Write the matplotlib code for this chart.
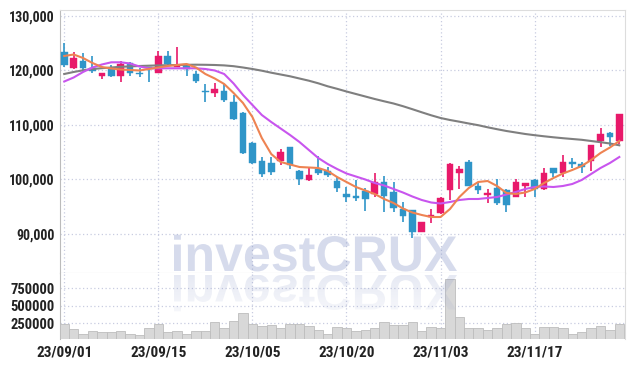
import numpy as np
import matplotlib.pyplot as plt
from matplotlib.textpath import TextPath
from matplotlib.patches import PathPatch
from matplotlib.font_manager import FontProperties
from matplotlib.transforms import Affine2D

# trading days (yy/mm/dd)
dates = ['23/09/01', '23/09/04', '23/09/05', '23/09/06', '23/09/07', '23/09/08',
         '23/09/11', '23/09/12', '23/09/13', '23/09/14', '23/09/15', '23/09/18',
         '23/09/19', '23/09/20', '23/09/21', '23/09/22', '23/09/25', '23/09/26',
         '23/09/27', '23/10/04', '23/10/05', '23/10/06', '23/10/10', '23/10/11',
         '23/10/12', '23/10/13', '23/10/16', '23/10/17', '23/10/18', '23/10/19',
         '23/10/20', '23/10/23', '23/10/24', '23/10/25', '23/10/26', '23/10/27',
         '23/10/30', '23/10/31', '23/11/01', '23/11/02', '23/11/03', '23/11/06',
         '23/11/07', '23/11/08', '23/11/09', '23/11/10', '23/11/13', '23/11/14',
         '23/11/15', '23/11/16', '23/11/17', '23/11/20', '23/11/21', '23/11/22',
         '23/11/23', '23/11/24', '23/11/27', '23/11/28', '23/11/29', '23/11/30']

opens = [123450, 120400, 121740, 120400, 118990, 120400, 118990, 121430, 119600, 120700,
         119600, 122660, 120700, 121010, 119360, 116300, 115870, 116300, 114270, 112260,
         106750, 103450, 103080, 103450, 106020, 101620, 99910, 101870, 101620, 99790,
         97340, 96970, 97940, 97340, 99590, 97760, 94530, 94400, 90420, 93060,
         93910, 98070, 101130, 103210, 98810, 97160, 98380, 98070, 96840, 98880,
         99910, 98200, 102050, 101130, 103270, 102840, 103450, 107120, 108590, 107120]
highs = [125050, 123450, 123160, 122660, 119600, 121000, 121740, 121620, 120400, 120700,
         123630, 123630, 124370, 121200, 119960, 117520, 117760, 117580, 115500, 112440,
         106930, 104180, 104180, 105540, 106020, 101700, 102240, 104310, 102240, 100500,
         98570, 99910, 98380, 101130, 100640, 99590, 95920, 94400, 92250, 94530,
         96700, 103000, 102470, 103580, 99450, 98200, 100000, 98200, 100000, 99300,
         100000, 102050, 102050, 104490, 103890, 103270, 106330, 109390, 108770, 112020]
lows = [120640, 120270, 119780, 119600, 118390, 118750, 117890, 118990, 118750, 117950,
        119490, 120820, 120590, 119000, 117650, 114270, 115140, 114270, 110920, 104620,
        102840, 100400, 100770, 102660, 101870, 98990, 99790, 100820, 100400, 97760,
        95920, 96140, 94270, 96730, 94090, 94090, 92250, 89210, 90420, 91960,
        93700, 96240, 98200, 98810, 97340, 95630, 95320, 94090, 96730, 96840,
        96800, 98070, 100450, 100400, 102050, 101130, 101620, 105910, 106150, 106520]
closes = [121010, 122240, 120400, 119900, 119490, 118990, 121190, 119490, 119360, 120400,
          122660, 121190, 121010, 120220, 118070, 115980, 116600, 114590, 111100, 104860,
          103080, 101000, 101440, 105100, 102660, 100000, 100820, 101250, 100820, 98380,
          96840, 96550, 96420, 99590, 97060, 94710, 93300, 90420, 92250, 93480,
          96550, 102840, 101870, 98810, 98070, 97470, 95740, 95320, 99590, 99300,
          98200, 101130, 101250, 103270, 102840, 102240, 106330, 108340, 107740, 112020]
volumes = [240000, 159000, 101000, 142000, 116000, 116000, 144000, 101000, 87000, 173000,
           234000, 116000, 130000, 101000, 130000, 144000, 263000, 187000, 277000, 387000,
           244000, 206000, 220000, 187000, 234000, 234000, 206000, 145000, 101000, 200000,
           173000, 134000, 149000, 173000, 267000, 220000, 220000, 267000, 134000, 196000,
           173000, 873000, 339000, 187000, 187000, 149000, 173000, 234000, 258000, 173000,
           101000, 196000, 196000, 173000, 91000, 124000, 187000, 206000, 149000, 244000]

# moving averages as shown on the chart
ma5 = [122660, 122935, 122293, 121375, 120641, 120366, 120183, 120091, 119999, 120275,
       120550, 120825, 121009, 121192, 120550, 119357, 118532, 117522, 115871, 114036,
       111467, 107613, 104677, 103209, 102750, 102292, 102200, 102108, 101558, 100457,
       99539, 98622, 97980, 97338, 96420, 95686, 94677, 93943, 93484, 93117,
       93117, 94585, 96787, 98439, 99540, 99723, 98806, 97521, 97338, 97613,
       98255, 99356, 100273, 101099, 101741, 102475, 103576, 104861, 105870, 107063]
ma20 = [117981, 118715, 119724, 120550, 121100, 121504, 121504, 121284, 120733, 120403,
        120403, 120403, 120403, 120403, 120403, 120275, 120000, 119357, 117614, 115503,
        113669, 111833, 110549, 109356, 108164, 106879, 105411, 103943, 102842, 101925,
        101099, 100548, 99998, 99356, 98897, 98255, 97613, 96879, 96236, 95778,
        95594, 95869, 96236, 96420, 96420, 96603, 96787, 97246, 97704, 98255,
        98622, 98714, 98622, 98805, 99172, 99906, 101007, 102108, 103026, 104126]
ma60 = [119357, 119724, 120036, 120275, 120422, 120550, 120678, 120752, 120825, 120880,
        120935, 120972, 121009, 121045, 121064, 121045, 121009, 120935, 120789, 120550,
        120275, 119963, 119596, 119266, 118936, 118531, 118128, 117651, 117100, 116641,
        116146, 115687, 115229, 114770, 114348, 113944, 113449, 112898, 112330, 111779,
        111283, 110916, 110604, 110274, 109962, 109577, 109228, 108898, 108623, 108347,
        108127, 107926, 107742, 107577, 107430, 107283, 107063, 106843, 106604, 106274]

price_ticks = [90000, 100000, 110000, 120000, 130000]
volume_ticks = [250000, 500000, 750000]

RED = '#e8196a'
BLUE = '#2f95c8'
GRID = '#c8cce0'
TICKFONT = ['Roboto Condensed', 'DejaVu Sans']

W, H = 634, 367
fig = plt.figure(figsize=(W / 100, H / 100), dpi=100)
left, right = 60 / W, 624.5 / W
ax = fig.add_axes([left, 1 - 273 / H, right - left, 263 / H])
axv = fig.add_axes([left, 1 - 338.5 / H, right - left, 65.5 / H], sharex=ax)

x = np.arange(len(dates))
o = np.array(opens)
c = np.array(closes)
col = np.where(c >= o, RED, BLUE)

ax.vlines(x, lows, highs, colors=col, lw=1.2, zorder=3)
body_low = np.minimum(o, c)
body_h = np.maximum(np.abs(c - o), 200)
ax.bar(x, body_h, bottom=body_low, width=0.7, color=col, edgecolor=col, lw=0.3, zorder=4)

ax.plot(x, ma60, color='#7f7f7f', lw=1.5, zorder=5)
ax.plot(x, ma20, color='#c855ee', lw=1.5, zorder=5)
ax.plot(x, ma5, color='#ee8352', lw=1.5, zorder=6)

ax.set_xlim(-0.45, 59.55)
ax.set_ylim(82840, 131100)
ax.set_yticks(price_ticks)
ax.set_yticklabels(['{:,}'.format(v) for v in price_ticks])
ax.set_xticks(x[::10])
ax.tick_params(axis='x', labelbottom=False, length=0)
ax.tick_params(axis='y', length=0, pad=4, labelsize=10, labelcolor='#222222')
ax.grid(True, ls=(0, (1, 2)), color=GRID, lw=0.9)
ax.set_axisbelow(True)
ax.spines['left'].set_color('#bbbbbb')
ax.spines['bottom'].set_color('#cfcfcf')
ax.spines['top'].set_color('#dddddd')
ax.spines['right'].set_color('#dddddd')

# volume panel
axv.bar(x, volumes, width=1.0, color='#d8d8d8', edgecolor='#bdbdbd', lw=0.6, zorder=3)
axv.set_ylim(30000, 965000)
axv.set_yticks(volume_ticks)
axv.set_yticklabels([str(v) for v in volume_ticks])
axv.set_xticks(x[::10])
axv.set_xticklabels(dates[::10])
axv.tick_params(length=0, labelsize=10.5, labelcolor='#222222')
axv.tick_params(axis='x', pad=5, labelsize=11)
axv.tick_params(axis='y', pad=4)
axv.grid(True, ls=(0, (1, 2)), color=GRID, lw=0.9)
axv.set_axisbelow(True)
axv.spines['top'].set_visible(False)
axv.spines['bottom'].set_visible(False)
axv.spines['left'].set_color('#bbbbbb')
axv.spines['right'].set_color('#dddddd')

for a in (ax, axv):
    for lab in a.get_xticklabels() + a.get_yticklabels():
        lab.set_fontfamily(TICKFONT)
        lab.set_fontweight('bold')

# watermark with mirrored reflection
wm = fig.add_axes([0, 0, 1, 1], zorder=10)
wm.axis('off')
tp = TextPath((0, 0), 'investCRUX', size=50,
              prop=FontProperties(family='Liberation Sans', weight='bold'))
bb = tp.get_extents()
s = 283 / bb.width
tr = Affine2D().translate(-bb.x0, 0).scale(s).translate(174, H - 271)
wm.add_patch(PathPatch(tr.transform_path(tp), fc=(0.52, 0.58, 0.78), ec='none', alpha=0.33))

tr_r = Affine2D().translate(-bb.x0, 0).scale(s, -s).translate(174, H - 275)
rpatch = PathPatch(tr_r.transform_path(tp), fc='none', ec='none')
wm.add_patch(rpatch)
grad = np.zeros((50, 1, 4))
grad[..., 0], grad[..., 1], grad[..., 2] = 0.52, 0.58, 0.78
grad[:, 0, 3] = np.linspace(0.2, 0.04, 50)
im = wm.imshow(grad, extent=[170, 462, H - 322, H - 275], aspect='auto', origin='upper')
im.set_clip_path(rpatch)
wm.set_xlim(0, W)
wm.set_ylim(0, H)

fig.savefig('out.png', dpi=100)
